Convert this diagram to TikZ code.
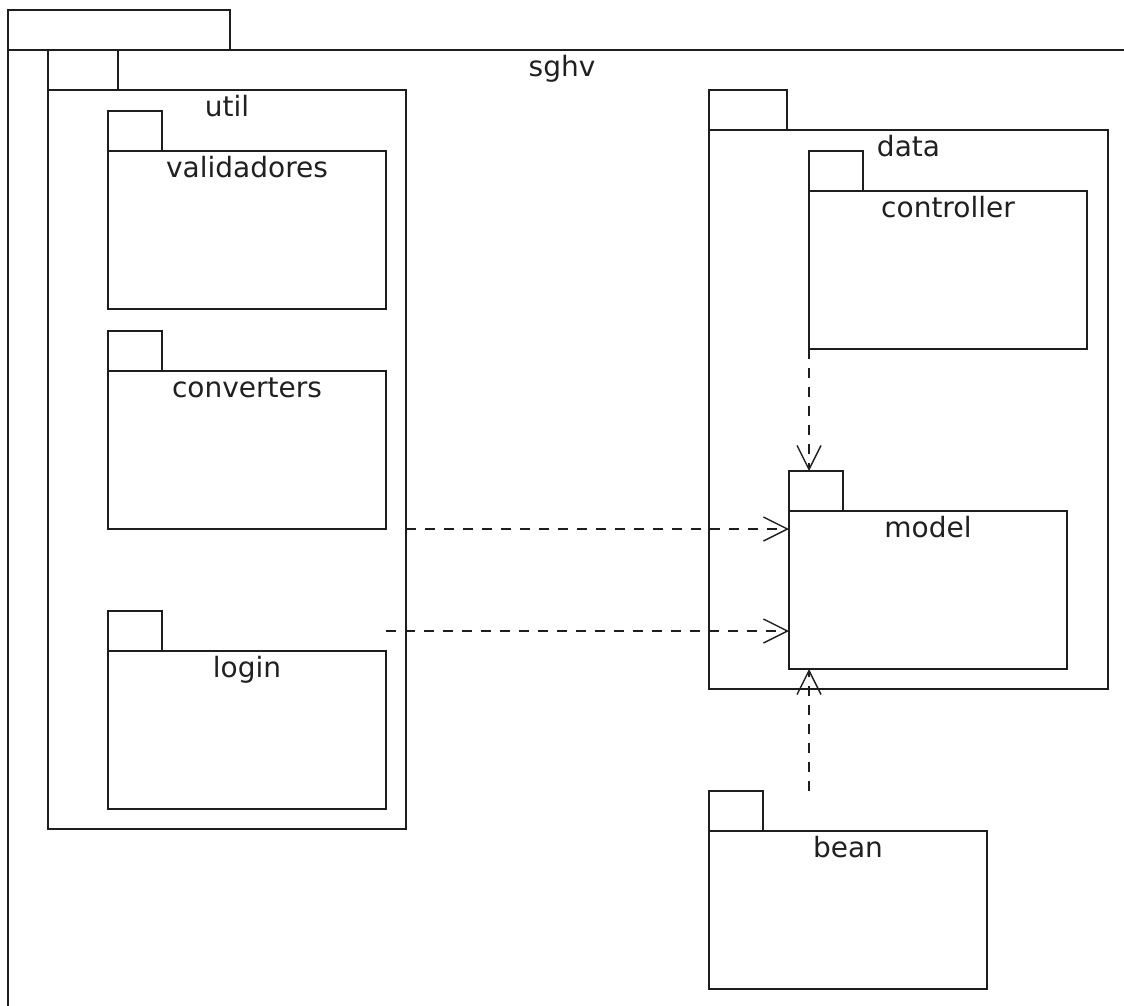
\documentclass[tikz,border=0pt]{standalone}
\usepackage{fontspec}
\setmainfont{DejaVu Sans}
\usepackage{tikz}
\usetikzlibrary{arrows.meta}
\definecolor{pkg_line}{HTML}{1E1E1E}
\definecolor{pkg_text}{HTML}{202020}

\begin{document}
\begin{tikzpicture}[
    x=1pt, y=-1pt,
    pkg/.style={draw=pkg_line, line width=1.6pt, fill=white, inner sep=0pt, outer sep=0pt, anchor=north west},
    pkg label/.style={text=pkg_text, font=\fontsize{28}{32}\selectfont, inner sep=0pt, anchor=base},
    dep/.style={pkg_line, line width=1.4pt, dash pattern=on 10pt off 9pt,
                -{Straight Barb[length=24pt, width=24pt]}}
]

% Canvas: 1 px of the original = 1 pt, y grows downward
\useasboundingbox (0,0) rectangle (1124,1005);
\clip (0,0) rectangle (1124,1005);

% Outer package (body runs off the canvas on the right and at the bottom)
\node[pkg, minimum width=222, minimum height=40] (sghv-tab) at (8,10) {};
\node[pkg, minimum width=1300, minimum height=1100] (sghv) at (8,50) {};
\node[pkg label] (sghv-label) at (562,76) {sghv};

% Inner packages: name / left / body top / body width / body height / tab width
\foreach \n/\x/\y/\w/\h/\t in {
    util/48/90/358/739/70,
    validadores/108/151/278/158/54,
    converters/108/371/278/158/54,
    login/108/651/278/158/54,
    data/709/130/399/559/78,
    controller/809/191/278/158/54,
    model/789/511/278/158/54,
    bean/709/831/278/158/54} {
    \node[pkg, minimum width=\t, minimum height=40] (\n-tab) at (\x,\y-40) {};
    \node[pkg, minimum width=\w, minimum height=\h] (\n) at (\x,\y) {};
    \node[pkg label] at ([yshift=-26pt]\n.north) {\n};
}

% Dependencies (all into model)
\draw[dep] (controller.south west) -- (controller.south west |- model-tab.north);
\draw[dep] (converters.south -| util.east) -- (converters.south -| model.west);
\draw[dep] (login-tab.east -| login.east) -- (login-tab.east -| model.west);
\draw[dep] (controller.west |- bean-tab.north) -- (controller.west |- model.south);

\end{tikzpicture}
\end{document}
